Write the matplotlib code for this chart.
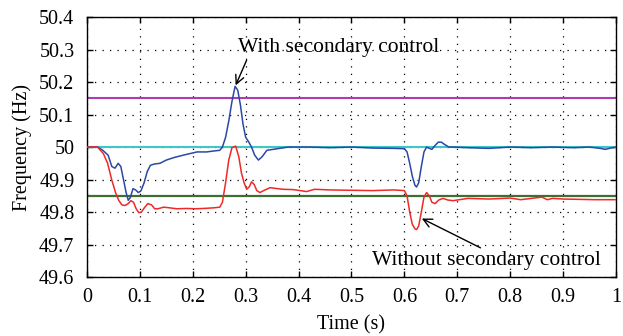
import matplotlib
matplotlib.use("Agg")
import matplotlib.pyplot as plt

plt.rcParams['font.family'] = ['Liberation Serif', 'DejaVu Serif']

# time (s) / frequency (Hz)
t_with = [0.0, 0.02, 0.03, 0.04, 0.047, 0.053, 0.059, 0.064, 0.069, 0.074, 0.078, 0.082,
          0.087, 0.092, 0.097, 0.102, 0.108, 0.114, 0.12, 0.128, 0.138, 0.15, 0.165,
          0.182, 0.195, 0.208, 0.226, 0.24, 0.251, 0.256, 0.262, 0.268, 0.274, 0.28,
          0.285, 0.29, 0.295, 0.3, 0.306, 0.311, 0.317, 0.324, 0.331, 0.34, 0.36,
          0.38, 0.42, 0.46, 0.5, 0.54, 0.58, 0.6, 0.605, 0.61, 0.615, 0.62, 0.623,
          0.627, 0.632, 0.637, 0.642, 0.647, 0.652, 0.658, 0.664, 0.67, 0.676, 0.684,
          0.692, 0.72, 0.76, 0.8, 0.84, 0.88, 0.92, 0.95, 0.97, 0.98, 0.99, 1.0]
f_with = [50.0, 50.0, 49.99, 49.975, 49.94, 49.935, 49.95, 49.94, 49.9, 49.86, 49.836, 49.845,
          49.872, 49.868, 49.86, 49.865, 49.89, 49.925, 49.944, 49.948, 49.95, 49.96, 49.968,
          49.975, 49.98, 49.985, 49.985, 49.988, 49.99, 50.0, 50.03, 50.08, 50.14, 50.187,
          50.175, 50.13, 50.07, 50.03, 50.015, 50.0, 49.975, 49.96, 49.97, 49.99, 49.995,
          50.0, 50.0, 49.998, 50.0, 49.997, 49.996, 49.995, 49.985, 49.95, 49.91, 49.882, 49.877,
          49.89, 49.94, 49.985, 50.0, 49.996, 49.993, 50.005, 50.015, 50.015, 50.008, 50.0,
          50.0, 49.998, 49.996, 50.0, 49.998, 50.0, 49.998, 50.0, 49.996, 49.993, 49.997, 50.0]

t_without = [0.0, 0.02, 0.031, 0.039, 0.047, 0.054, 0.06, 0.066, 0.072, 0.078, 0.083, 0.088,
             0.093, 0.098, 0.103, 0.108, 0.115, 0.122, 0.128, 0.134, 0.145, 0.156, 0.17,
             0.188, 0.205, 0.22, 0.24, 0.251, 0.256, 0.262, 0.268, 0.274, 0.281, 0.287,
             0.292, 0.297, 0.302, 0.307, 0.311, 0.316, 0.321, 0.327, 0.334, 0.346, 0.36,
             0.371, 0.39, 0.403, 0.415, 0.43, 0.46, 0.5, 0.54, 0.58, 0.6, 0.605, 0.61,
             0.615, 0.62, 0.623, 0.627, 0.632, 0.637, 0.642, 0.647, 0.652, 0.658, 0.665,
             0.673, 0.682, 0.692, 0.72, 0.76, 0.8, 0.82, 0.84, 0.86, 0.87, 0.88, 0.9,
             0.93, 0.96, 1.0]
f_without = [50.0, 50.0, 49.98, 49.95, 49.898, 49.86, 49.836, 49.822, 49.82, 49.826, 49.835, 49.83,
             49.81, 49.798, 49.8, 49.812, 49.826, 49.822, 49.81, 49.81, 49.815, 49.813, 49.81,
             49.811, 49.81, 49.811, 49.813, 49.815, 49.83, 49.89, 49.96, 49.998, 50.003, 49.97,
             49.92, 49.89, 49.87, 49.878, 49.893, 49.885, 49.866, 49.86, 49.866, 49.875, 49.872,
             49.87, 49.869, 49.866, 49.863, 49.87, 49.868, 49.867, 49.866, 49.868, 49.866, 49.85,
             49.8, 49.762, 49.748, 49.746, 49.757, 49.8, 49.846, 49.86, 49.85, 49.83, 49.826,
             49.837, 49.842, 49.837, 49.835, 49.842, 49.84, 49.843, 49.838, 49.842, 49.846, 49.838,
             49.842, 49.84, 49.839, 49.838, 49.838]

ref_upper = 50.15
ref_nominal = 50.0
ref_lower = 49.85

fig = plt.figure(figsize=(6.23, 3.36), dpi=100)
ax = fig.add_axes([0.1396, 0.1756, 0.8492, 0.7734])

ax.axhline(ref_upper, color='#b03ab0', lw=1.5, zorder=2)
ax.axhline(ref_nominal, color='#3cc8c8', lw=1.5, zorder=2)
ax.axhline(ref_lower, color='#3f6e35', lw=1.6, zorder=2)
ax.plot(t_with, f_with, color='#2a48a8', lw=1.1, zorder=3)
ax.plot(t_without, f_without, color='#f02828', lw=1.1, zorder=3)

ax.set_xlim(0, 1)
ax.set_ylim(49.6, 50.4)
ax.set_xticks([0, 0.1, 0.2, 0.3, 0.4, 0.5, 0.6, 0.7, 0.8, 0.9, 1])
ax.set_xticklabels(['0', '0.1', '0.2', '0.3', '0.4', '0.5', '0.6', '0.7', '0.8', '0.9', '1'])
ax.set_yticks([49.6, 49.7, 49.8, 49.9, 50.0, 50.1, 50.2, 50.3, 50.4])
ax.set_yticklabels(['49.6', '49.7', '49.8', '49.9', '50', '50.1', '50.2', '50.3', '50.4'])
ax.tick_params(direction='in', top=True, right=True, labelsize=14.5, length=4, width=1)
ax.tick_params(axis='x', pad=8)
ax.tick_params(axis='y', pad=9)
ax.grid(True, color='black', linestyle=(0, (1, 5)), linewidth=0.9)
for s in ax.spines.values():
    s.set_linewidth(1.0)

ax.set_xlabel('Time (s)', fontsize=14.5, labelpad=6)
ax.set_ylabel('Frequency (Hz)', fontsize=14.5, labelpad=5)

ax.annotate('With secondary control', xy=(0.281, 50.19), xytext=(0.285, 50.305),
            fontsize=15.5, va='center', ha='left',
            arrowprops=dict(arrowstyle='->', color='black', lw=1, shrinkA=0, shrinkB=0,
                            relpos=(0.05, 0.0)))
ax.annotate('Without secondary control', xy=(0.633, 49.78), xytext=(0.538, 49.652),
            fontsize=15.5, va='center', ha='left',
            arrowprops=dict(arrowstyle='->', color='black', lw=1, shrinkA=0, shrinkB=0,
                            relpos=(0.5, 1.0)))

fig.savefig('out.png', dpi=100)
